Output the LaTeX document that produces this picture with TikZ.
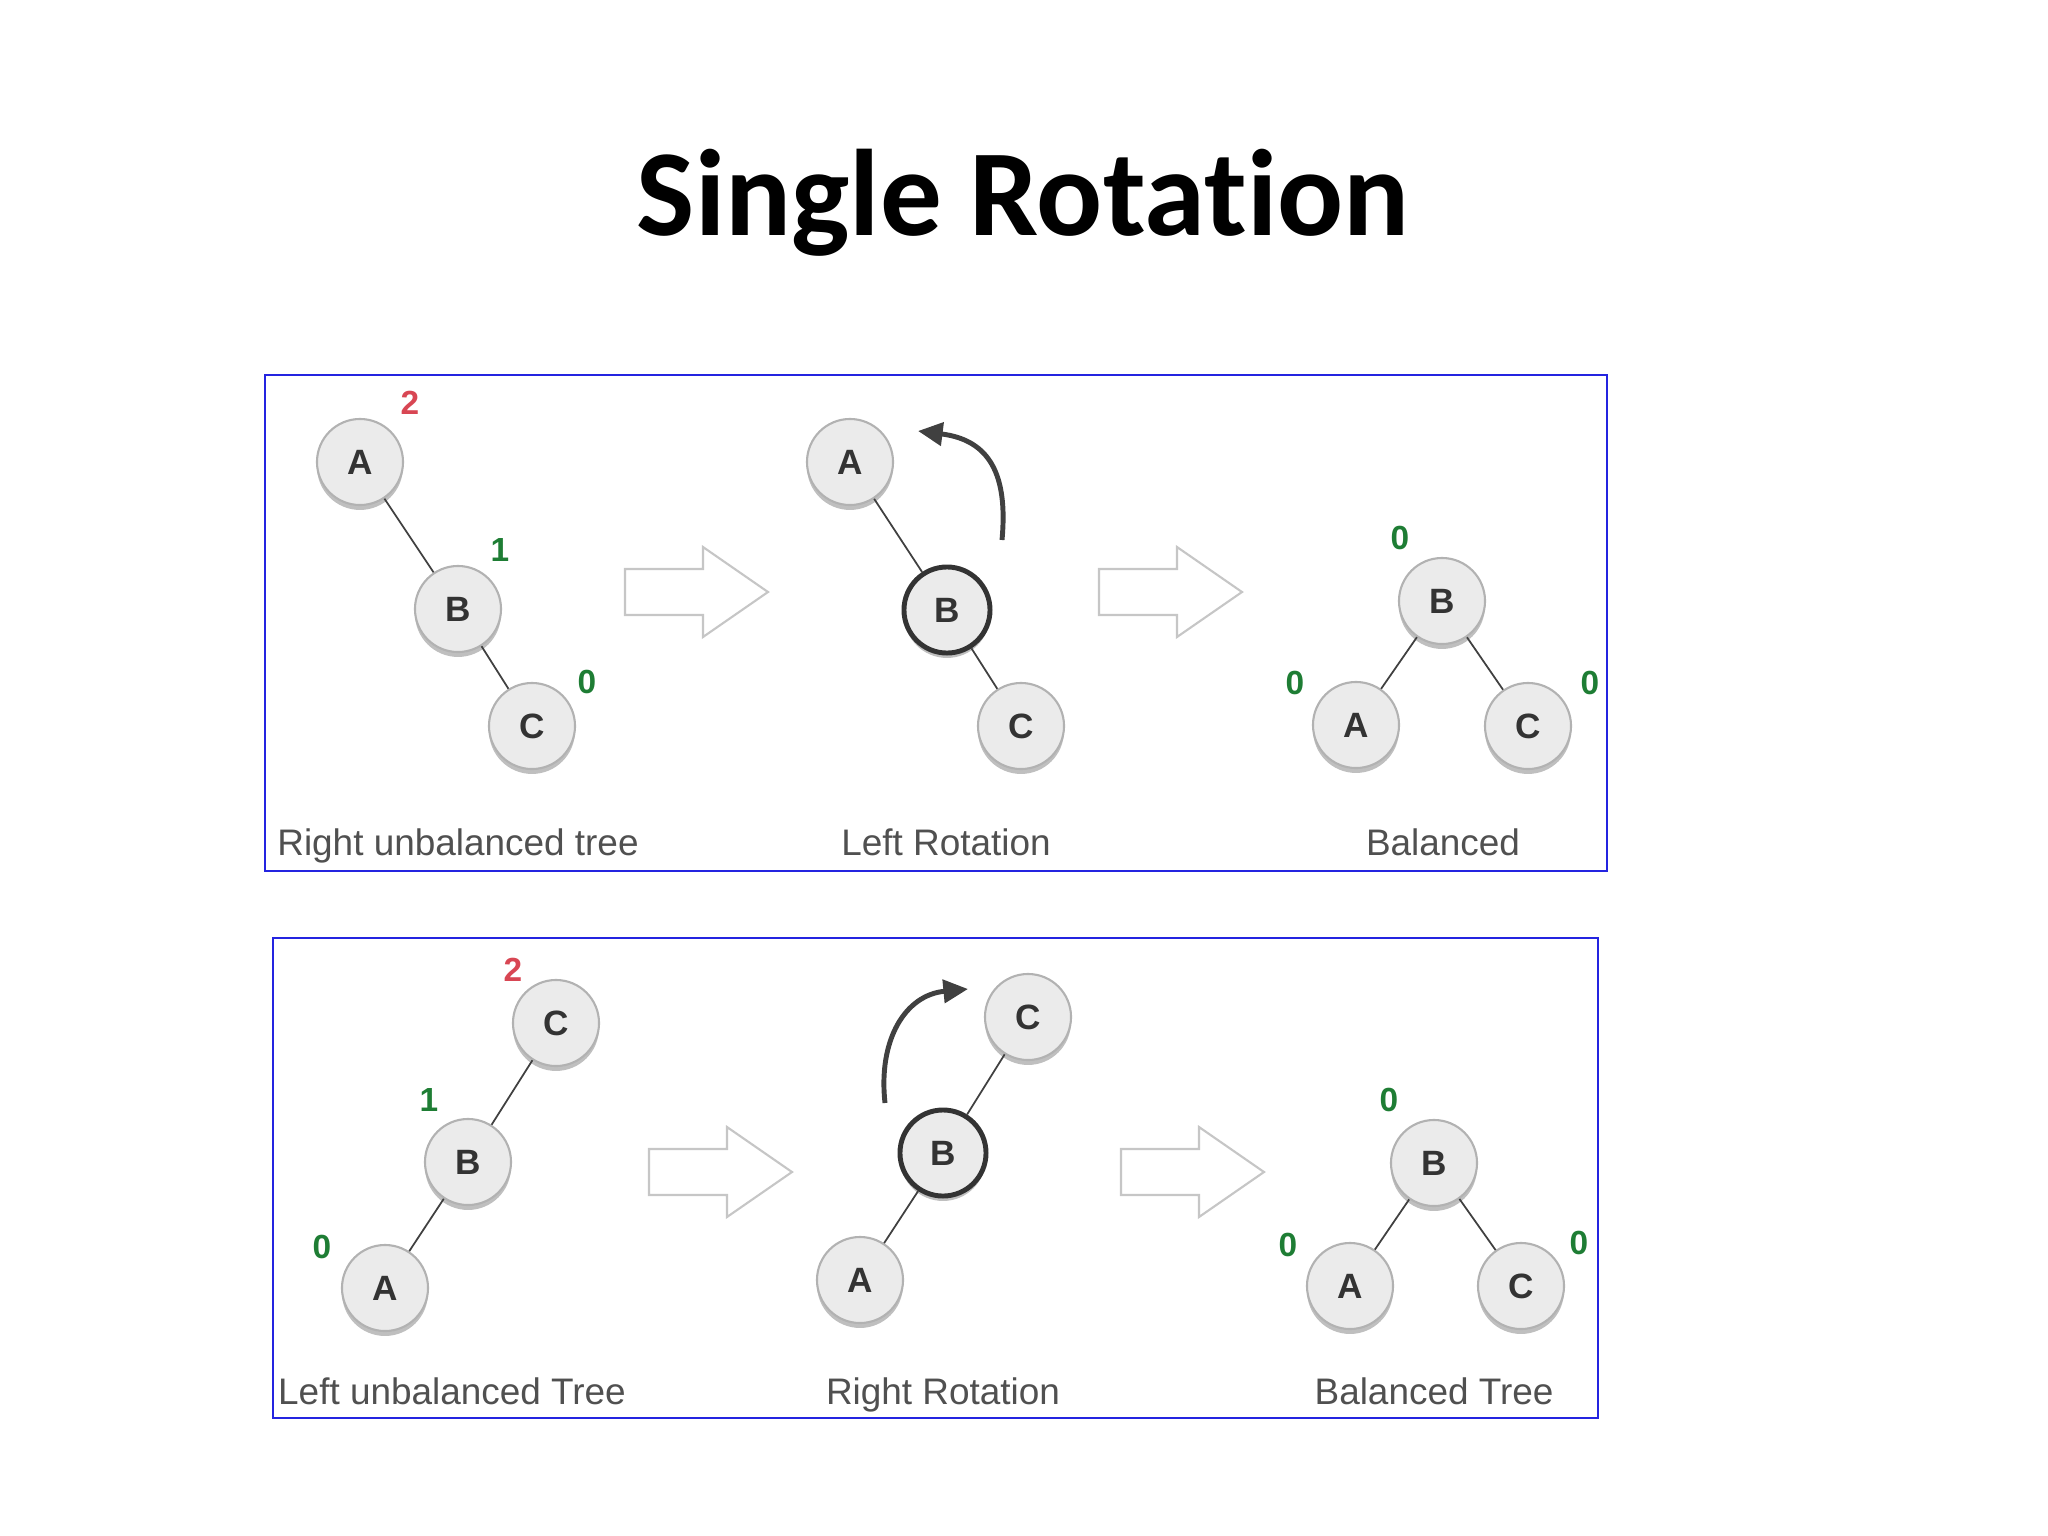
\documentclass[tikz,border=0pt]{standalone}
\usepackage{fontspec}
\setmainfont{Liberation Sans}
\newfontfamily\titlefont[Ligatures=NoCommon]{Carlito}
\usepackage{xcolor}
\usepackage{tikz}
\usetikzlibrary{arrows.meta, shadows}

\definecolor{nodefill}{HTML}{EBEBEB}
\definecolor{nodetext}{HTML}{333333}
\definecolor{captext}{HTML}{505050}
\definecolor{balgreen}{HTML}{1E7D34}
\definecolor{balred}{HTML}{D84653}
\definecolor{boxblue}{HTML}{2424E0}

\begin{document}
\begin{tikzpicture}[x=0.01cm, y=-0.01cm,
    tnode/.style={circle, draw=gray!60, line width=0.6pt, fill=nodefill,
      minimum size=0.86cm, inner sep=0pt, text=nodetext,
      font=\fontsize{10}{12}\selectfont\bfseries,
      drop shadow={shadow xshift=0pt, shadow yshift=-1.4pt,
        opacity=0.25, fill=black}},
    pivot/.style={tnode, draw=black!80, line width=1.4pt},
    edge/.style={draw=black!75, line width=0.5pt},
    bal/.style={font=\fontsize{9.5}{11}\selectfont\bfseries, text=balgreen},
    balhi/.style={bal, text=balred},
    lbl/.style={font=\fontsize{10.5}{12}\selectfont, text=captext, anchor=base},
    rot/.style={-{Triangle[length=7pt, width=6.5pt]}, line width=1.4pt,
      draw=black!75},
    panel/.style={draw=boxblue, line width=0.7pt},
    fatarrow/.pic={
      \draw[draw=gray!45, fill=white, line width=0.6pt, line join=miter]
        (0,-23) -- (78,-23) -- (78,-45) -- (143,0) -- (78,45)
        -- (78,23) -- (0,23) -- cycle;
    },
  ]
    \useasboundingbox (0,0) rectangle (2048,1536);

    % ═══ Title ═══
    \node[anchor=base, font=\titlefont\fontsize{35}{42}\selectfont\bfseries]
      (title) at (1023,235) {Single Rotat\kern0pt ion};

    % ═══ Top panel: right unbalanced -> left rotation ═══
    \draw[panel] (265,375) rectangle (1607,871);

    % Right unbalanced tree
    \node[tnode] (a1) at (360,462) {A};
    \node[tnode] (b1) at (458,609) {B};
    \node[tnode] (c1) at (532,726) {C};
    \node[balhi] (f1a) at (410,403) {2};
    \node[bal] (f1b) at (500,550) {1};
    \node[bal] (f1c) at (587,682) {0};
    \draw[edge] (a1) -- (b1);
    \draw[edge] (b1) -- (c1);
    \node[lbl] (txt1) at (458,855) {Right unbalanced tree};

    \pic at (625,592) {fatarrow};

    % Left rotation
    \node[tnode] (a2) at (850,462) {A};
    \node[pivot] (b2) at (947,610) {B};
    \node[tnode] (c2) at (1021,726) {C};
    \draw[edge] (a2) -- (b2);
    \draw[edge] (b2) -- (c2);
    \coordinate (rl0) at (1002,540);
    \coordinate (rl1) at (918,431);
    \draw[rot] (rl0) .. controls (1008,475) and (990,440) .. (rl1);
    \node[lbl] (txt2) at (946,855) {Left Rotation};

    \pic at (1099,592) {fatarrow};

    % Balanced
    \node[tnode] (b3) at (1442,601) {B};
    \node[tnode] (a3) at (1356,725) {A};
    \node[tnode] (c3) at (1528,726) {C};
    \node[bal] (f3b) at (1400,538) {0};
    \node[bal] (f3a) at (1295,683) {0};
    \node[bal] (f3c) at (1590,683) {0};
    \draw[edge] (b3) -- (a3);
    \draw[edge] (b3) -- (c3);
    \node[lbl] (txt3) at (1443,855) {Balanced};

    % ═══ Bottom panel: left unbalanced -> right rotation ═══
    \draw[panel] (273,938) rectangle (1598,1418);

    % Left unbalanced tree
    \node[tnode] (c4) at (556,1023) {C};
    \node[tnode] (b4) at (468,1162) {B};
    \node[tnode] (a4) at (385,1288) {A};
    \node[balhi] (f4c) at (513,970) {2};
    \node[bal] (f4b) at (429,1100) {1};
    \node[bal] (f4a) at (322,1247) {0};
    \draw[edge] (c4) -- (b4);
    \draw[edge] (b4) -- (a4);
    \node[lbl] (txt4) at (452,1404) {Left unbalanced Tree};

    \pic at (649,1172) {fatarrow};

    % Right rotation
    \node[tnode] (c5) at (1028,1017) {C};
    \node[pivot] (b5) at (943,1153) {B};
    \node[tnode] (a5) at (860,1280) {A};
    \draw[edge] (c5) -- (b5);
    \draw[edge] (b5) -- (a5);
    \coordinate (rr0) at (885,1103);
    \coordinate (rr1) at (968,989);
    \draw[rot] (rr0) .. controls (878,1040) and (905,995) .. (rr1);
    \node[lbl] (txt5) at (943,1404) {Right Rotation};

    \pic at (1121,1172) {fatarrow};

    % Balanced tree
    \node[tnode] (b6) at (1434,1163) {B};
    \node[tnode] (a6) at (1350,1286) {A};
    \node[tnode] (c6) at (1521,1286) {C};
    \node[bal] (f6b) at (1389,1100) {0};
    \node[bal] (f6a) at (1288,1245) {0};
    \node[bal] (f6c) at (1579,1243) {0};
    \draw[edge] (b6) -- (a6);
    \draw[edge] (b6) -- (c6);
    \node[lbl] (txt6) at (1434,1404) {Balanced Tree};
  \end{tikzpicture}
\end{document}
